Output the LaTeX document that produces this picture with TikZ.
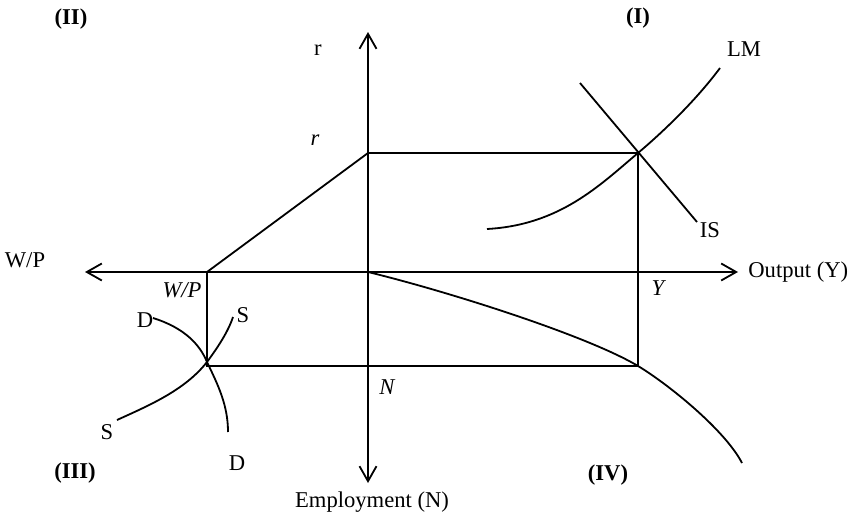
\documentclass[tikz,border=0pt]{standalone}
\usepackage{fontspec}
\setmainfont{Liberation Serif}
\usetikzlibrary{arrows.meta}

\begin{document}
\begin{tikzpicture}[
    x=0.5pt, y=-0.5pt,
    font=\fontsize{11.3}{13}\selectfont,
    every node/.style={inner sep=0pt},
    axis/.style={line width=0.9pt, -{Straight Barb[length=7.5pt, width=8.5pt, line width=0.9pt]}},
    guide/.style={line width=0.9pt},
    curve/.style={line width=0.9pt},
    quad/.style={font=\fontsize{11.3}{13}\selectfont\bfseries},
    val/.style={font=\fontsize{11.3}{13}\selectfont\itshape},
]
    \useasboundingbox (0,0) rectangle (858,514);

    % Key points
    \coordinate (O)   at (368,272);
    \coordinate (R)   at (368,153);
    \coordinate (E)   at (638,153);
    \coordinate (Q)   at (638,366);
    \coordinate (WP)  at (207,272);
    \coordinate (Lc)  at (207,366);
    \coordinate (L)   at (207,362);
    \coordinate (Nax) at (368,366);

    % Axes
    \draw[axis] (O) -- (368,32)  coordinate (rtip);
    \draw[axis] (O) -- (368,483) coordinate (ntip);
    \draw[axis] (O) -- (85,272)  coordinate (wtip);
    \draw[axis] (O) -- (738,272) coordinate (ytip);

    % Axis labels
    \node (rlab)   at (318,50)  {r};
    \node (wplab)  at (25,260)  {W/P};
    \node[anchor=west] (outlab) at (748,272) {Output (Y)};
    \node (emplab) at (372,502) {Employment (N)};

    % Quadrant labels
    \node[quad] (q2) at (71,19)   {(II)};
    \node[quad] (q1) at (638,18)  {(I)};
    \node[quad] (q3) at (75,473)  {(III)};
    \node[quad] (q4) at (608,475) {(IV)};

    % Equilibrium values
    \node[val] (rval)  at (315,140) {r};
    \node[val] (wpval) at (182,290) {W/P};
    \node[val] (yval)  at (658,288) {Y};
    \node[val] (nval)  at (387,387) {N};

    % Rectangle linking the four quadrants
    \draw[guide] (WP) -- (R) -- (E) -- (Q) -- (Nax) -- (Lc) -- (WP);

    % (I) IS-LM
    \draw[curve] (487,229) .. controls (560,225) and (600,185) .. (E)
                 .. controls (670,126) and (700,95) .. (720,68);
    \draw[curve] (580,83) -- (697,222);
    \node (lmlab) at (744,49)  {LM};
    \node (islab) at (710,230) {IS};

    % (III) labour market
    \draw[curve] (153,318) .. controls (185,328) and (200,345) .. (L)
                 .. controls (218,385) and (228,405) .. (228,432);
    \draw[curve] (117,420) .. controls (150,405) and (185,390) .. (L)
                 .. controls (218,347) and (228,332) .. (233,317);
    \node (dtop) at (145,320) {D};
    \node (dbot) at (237,463) {D};
    \node (stop) at (243,315) {S};
    \node (sbot) at (107,432) {S};

    % (IV) production function
    \draw[curve] (O) .. controls (450,292) and (588,336) .. (Q)
                 .. controls (668,384) and (725,430) .. (742,463);
\end{tikzpicture}
\end{document}
